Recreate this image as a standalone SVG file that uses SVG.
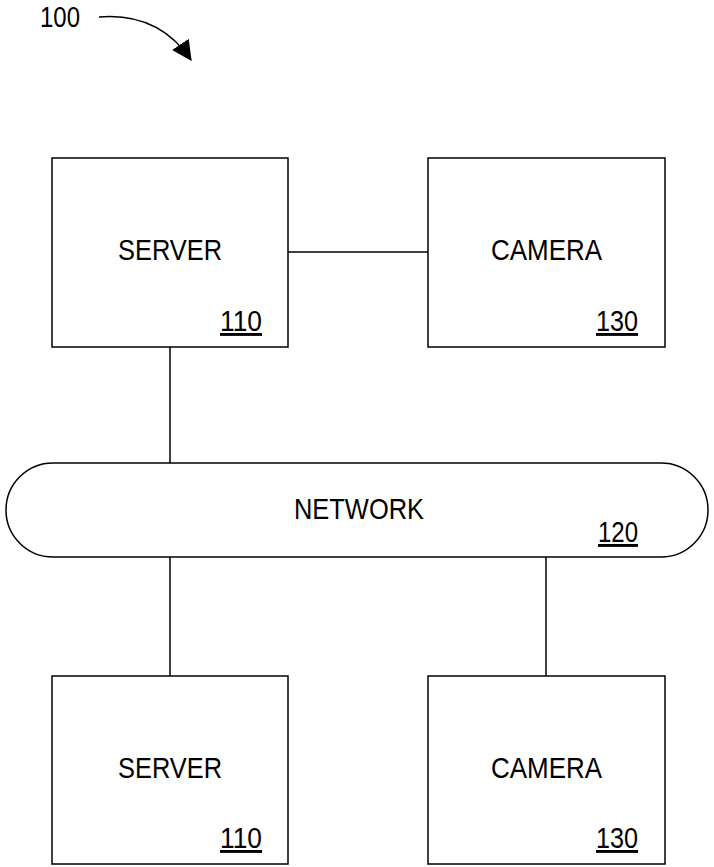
<svg xmlns="http://www.w3.org/2000/svg" width="714" height="867" viewBox="0 0 714 867">
<style>
.box{fill:#fff;stroke:#000;stroke-width:1.5}
.ln{stroke:#000;stroke-width:1.5;fill:none}
.t{font-family:"Liberation Sans",Arial,sans-serif;font-size:29px;fill:#000}
.ref{font-family:"Liberation Sans",Arial,sans-serif;font-size:29px;fill:#000;text-decoration:underline}
</style>
<defs>
<marker id="ah2" markerWidth="20" markerHeight="20" refX="17" refY="9" orient="auto" markerUnits="userSpaceOnUse" viewBox="0 0 18 18">
<path d="M0,0 L18,9 L0,18 z" fill="#000"/>
</marker>
</defs>
<g id="label100">
<text class="t" x="40" y="27" textLength="40" lengthAdjust="spacingAndGlyphs">100</text>
<path class="ln" d="M99,17 C135,14 168,26 191,60" marker-end="url(#ah2)"/>
</g>
<g id="connectors">
<line class="ln" x1="288" y1="252" x2="428" y2="252"/>
<line class="ln" x1="170" y1="347" x2="170" y2="463"/>
<line class="ln" x1="170" y1="557" x2="170" y2="676"/>
<line class="ln" x1="546" y1="557" x2="546" y2="676"/>
</g>
<g id="server1">
<rect class="box" x="52" y="158" width="236" height="189"/>
<text class="t" x="118" y="260" textLength="104" lengthAdjust="spacingAndGlyphs">SERVER</text>
<text class="ref" x="220" y="331" textLength="42" lengthAdjust="spacingAndGlyphs">110</text>
</g>
<g id="camera1">
<rect class="box" x="428" y="158" width="237" height="189"/>
<text class="t" x="491" y="260" textLength="111" lengthAdjust="spacingAndGlyphs">CAMERA</text>
<text class="ref" x="596" y="331" textLength="42" lengthAdjust="spacingAndGlyphs">130</text>
</g>
<g id="network">
<rect class="box" x="6" y="463" width="702" height="94" rx="47" ry="47"/>
<text class="t" x="294" y="519" textLength="130" lengthAdjust="spacingAndGlyphs">NETWORK</text>
<text class="ref" x="598" y="542" textLength="40" lengthAdjust="spacingAndGlyphs">120</text>
</g>
<g id="server2">
<rect class="box" x="52" y="676" width="236" height="188"/>
<text class="t" x="118" y="778" textLength="104" lengthAdjust="spacingAndGlyphs">SERVER</text>
<text class="ref" x="220" y="848" textLength="42" lengthAdjust="spacingAndGlyphs">110</text>
</g>
<g id="camera2">
<rect class="box" x="428" y="676" width="237" height="188"/>
<text class="t" x="491" y="778" textLength="111" lengthAdjust="spacingAndGlyphs">CAMERA</text>
<text class="ref" x="596" y="848" textLength="42" lengthAdjust="spacingAndGlyphs">130</text>
</g>
</svg>
